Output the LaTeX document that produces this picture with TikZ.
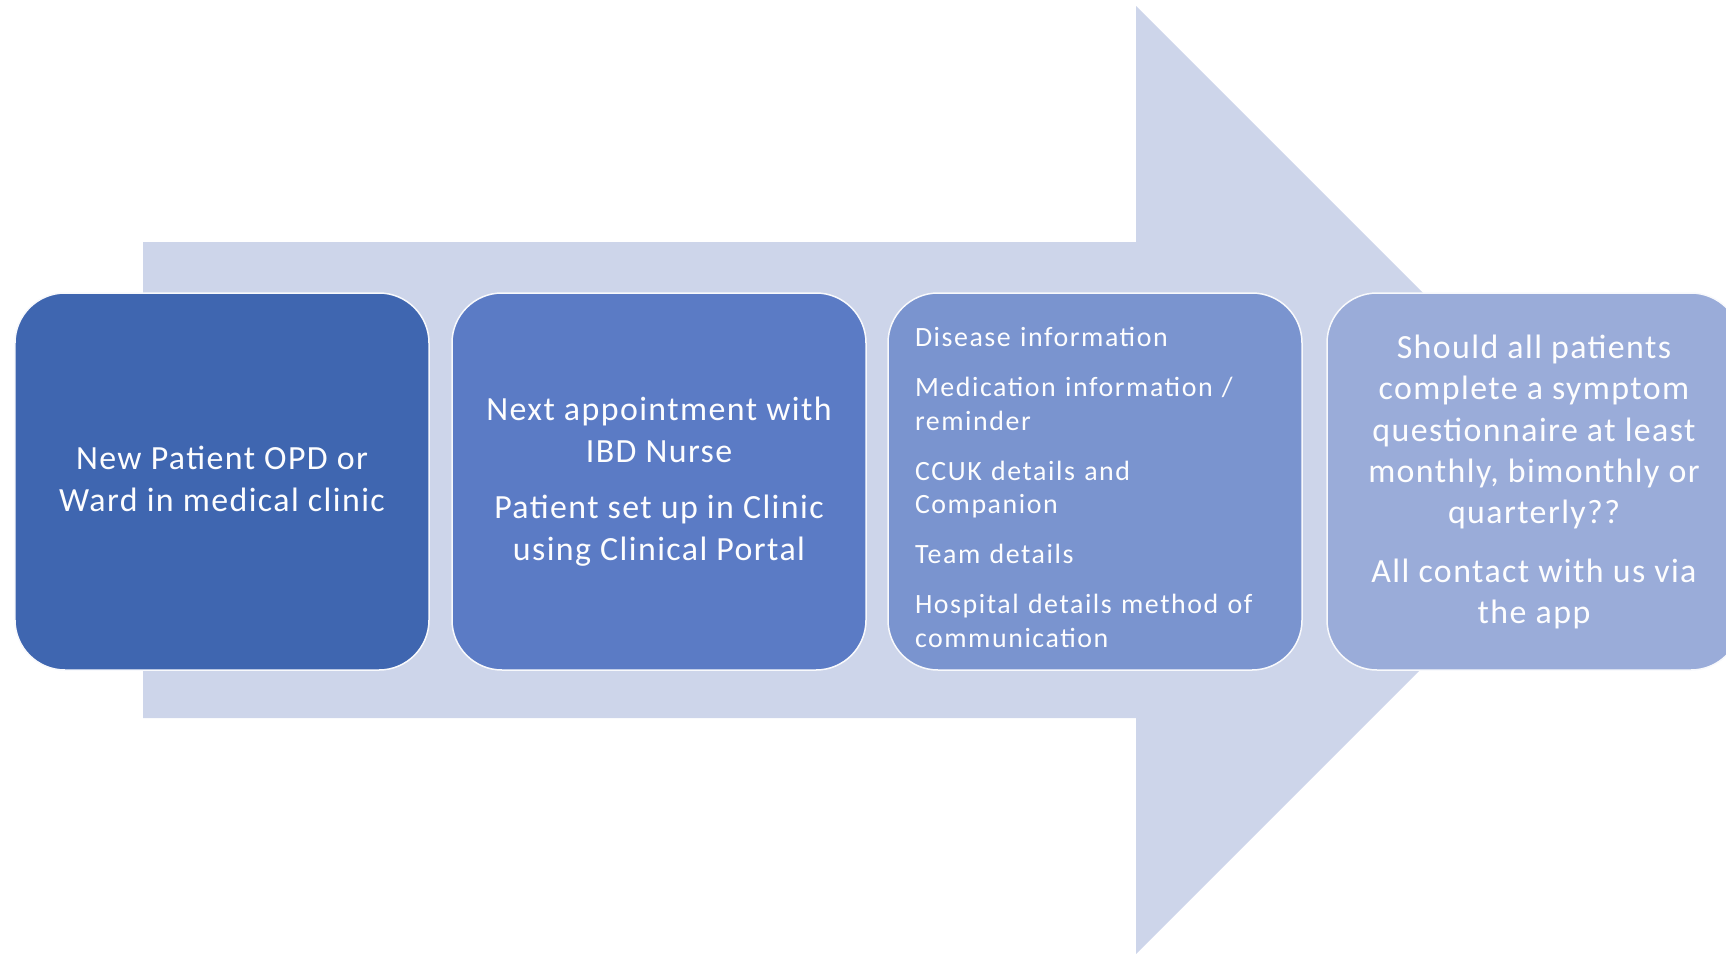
\documentclass[tikz,border=0pt]{standalone}
\usepackage{fontspec}
\setmainfont{Carlito}[LetterSpace=4.2]
\newfontfamily\smallfam{Carlito}[LetterSpace=5.6]
\definecolor{arrowc}{HTML}{CDD5EA}
\definecolor{cA}{HTML}{3F66B0}
\definecolor{cB}{HTML}{5B7BC5}
\definecolor{cC}{HTML}{7A94CF}
\definecolor{cD}{HTML}{9AACD9}
\begin{document}
\begin{tikzpicture}[x=1bp,y=-1bp,
  stagebox/.style={rounded corners=50bp, draw=white!85!arrowc, line width=1.5bp,
    minimum width=414bp, minimum height=377bp, inner sep=0pt},
  bigtext/.style={text=white!96!arrowc, font=\fontsize{34}{42}\selectfont, align=center, inner sep=0pt},
  smalltext/.style={text=white!96!arrowc, font=\smallfam\fontsize{28}{34}\selectfont, align=left, text width=360bp, inner sep=0pt}]
\useasboundingbox (0,0) rectangle (1726,953);
\clip (0,0) rectangle (1726,953);
\fill[arrowc] (143,242) -- (1136,242) -- (1136,6) -- (1610,480) -- (1136,954) -- (1136,718) -- (143,718) -- cycle;
\node[stagebox, fill=cA] (b1) at (222,481.5) {};
\node[bigtext] (t1) at (222,478.5) {New Patient OPD or\\Ward in medical clinic};
\node[stagebox, fill=cB] (b2) at (659,481.5) {};
\node[bigtext] (t2) at (659,481.5) {Next appointment with\\IBD Nurse\\[14bp]Patient set up in Clinic\\using Clinical Portal};
\node[stagebox, fill=cC] (b3) at (1095,481.5) {};
\node[smalltext] (t3) at (1095,487.5) {Disease information\\[16bp]Medication information /\\reminder\\[16bp]CCUK details and\\Companion\\[16bp]Team details\\[16bp]Hospital details method of\\communication};
\node[stagebox, fill=cD] (b4) at (1534,481.5) {};
\node[bigtext, font=\fontsize{34}{41.5}\selectfont] (t4) at (1534,482) {Should all patients\\complete a symptom\\questionnaire at least\\monthly, bimonthly or\\quarterly??\\[17bp]All contact with us via\\the app};
\end{tikzpicture}
\end{document}
